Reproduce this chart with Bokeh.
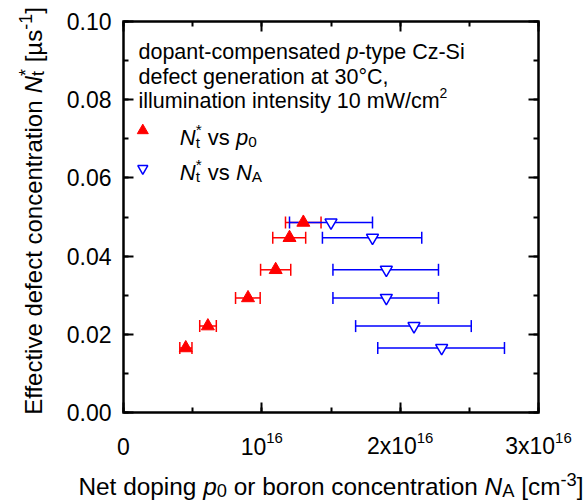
import math
from bokeh.plotting import figure
from bokeh.models import (ColumnDataSource, Whisker, TeeHead, LinearAxis,
                          SingleIntervalTicker, Label, Range1d,
                          PrintfTickFormatter, CustomJSTickFormatter)
from bokeh.embed import file_html
from bokeh.resources import INLINE

# ---------------- data ----------------
nt_values = [0.0486, 0.0447, 0.0365, 0.0293, 0.0221, 0.0165]   # N_t* [1/us]
p0_values = [1.30e16, 1.20e16, 1.10e16, 0.90e16, 0.61e16, 0.45e16]
p0_lower = [1.171e16, 1.079e16, 0.991e16, 0.810e16, 0.551e16, 0.407e16]
p0_upper = [1.428e16, 1.317e16, 1.209e16, 0.988e16, 0.671e16, 0.495e16]
na_values = [1.50e16, 1.80e16, 1.90e16, 1.90e16, 2.10e16, 2.30e16]
na_lower = [1.200e16, 1.438e16, 1.514e16, 1.514e16, 1.678e16, 1.838e16]
na_upper = [1.800e16, 2.156e16, 2.277e16, 2.277e16, 2.514e16, 2.754e16]

x_tick_values = [0, 1e16, 2e16, 3e16]
x_tick_base = ["0", "10", "2x10", "3x10"]
x_tick_exp = ["", "16", "16", "16"]

X0, X1 = 0, 3e16
Y0, Y1 = 0.0, 0.10

# ---------------- layout ----------------
W, H = 585, 503
L, R, T, B = 123, 538, 21, 412          # plot box in page pixels
FONT = "Liberation Sans"


def dx(px):
    return X0 + (px - L) / (R - L) * (X1 - X0)


def dy(py):
    return Y0 + (B - py) / (B - T) * (Y1 - Y0)


def tx(v):
    return L + (v - X0) / (X1 - X0) * (R - L)


# the frame spans the whole canvas so that the outer texts are not clipped
p = figure(width=W, height=H,
           x_range=Range1d(dx(0), dx(W)), y_range=Range1d(dy(H), dy(0)),
           output_backend="svg", toolbar_location=None,
           x_axis_type=None, y_axis_type=None,
           min_border_left=0, min_border_right=0,
           min_border_top=0, min_border_bottom=0)
p.outline_line_color = None
p.background_fill_color = "white"
p.border_fill_color = "white"


def make_axis(ticker, formatter, loc, bounds, labels=False):
    return LinearAxis(ticker=ticker, formatter=formatter,
                      fixed_location=loc, bounds=bounds,
                      axis_line_color=None,
                      major_tick_line_width=2, minor_tick_line_width=2,
                      major_tick_line_color="black", minor_tick_line_color="black",
                      major_tick_in=10, major_tick_out=0,
                      minor_tick_in=5, minor_tick_out=0,
                      major_label_text_font=FONT,
                      major_label_text_font_size="23px" if labels else "0px",
                      major_label_text_color="black",
                      major_label_standoff=12 if labels else 0)


xt = SingleIntervalTicker(interval=1e16, num_minor_ticks=2)
yt = SingleIntervalTicker(interval=0.02, num_minor_ticks=2)
empty = CustomJSTickFormatter(code="return ''")

p.add_layout(make_axis(xt, empty, Y0, (X0, X1)), "below")
p.add_layout(make_axis(xt, empty, Y1, (X0, X1)), "above")
p.add_layout(make_axis(yt, PrintfTickFormatter(format="%.2f"), X0, (Y0, Y1), True), "left")
p.add_layout(make_axis(yt, empty, X1, (Y0, Y1)), "right")

# plot box
p.quad(left=[X0], right=[X1], bottom=[Y0], top=[Y1], fill_color=None,
       line_color="black", line_width=2.5, line_join="miter")

AW = {' ': 278, '-': 333, ',': 278, '.': 278, '*': 389, '[': 278, ']': 278,
      '/': 278, '°': 400, 'µ': 577,
      'A': 667, 'C': 722, 'E': 667, 'N': 722, 'S': 667, 'W': 944,
      'a': 556, 'b': 556, 'c': 500, 'd': 556, 'e': 556, 'f': 278, 'g': 556,
      'h': 556, 'i': 222, 'l': 222, 'm': 833, 'n': 556, 'o': 556, 'p': 556,
      'r': 333, 's': 500, 't': 278, 'u': 556, 'v': 500, 'w': 722, 'x': 500,
      'y': 500, 'z': 500}


def tw(s, size):
    return sum(AW.get(c, 556) for c in s) / 1000.0 * size


def rich_width(segs, size, scale):
    pos, pending = 0.0, 0.0
    for text, ital, kind, adv in segs:
        fs = size if kind == "n" else size * scale
        w = tw(text, fs)
        if adv:
            pos += max(w, pending)
            pending = 0.0
        else:
            pending = w
    return pos


def rich(segs, x, y, size, angle=0.0, scale=0.7, sub=0.22, sup=0.36,
         color="black", anchor="left"):
    total = rich_width(segs, size, scale)
    ux, uy = math.cos(angle), -math.sin(angle)
    upx, upy = -math.sin(angle), -math.cos(angle)
    pos = -total / 2.0 if anchor == "center" else 0.0
    pending = 0.0
    for text, ital, kind, adv in segs:
        fs = size if kind == "n" else size * scale
        shift = 0.0
        if kind == "sub":
            shift = -sub * size
        elif kind == "sup":
            shift = sup * size
        lead = len(text) - len(text.lstrip(" "))
        off = tw(" " * lead, fs)
        px = x + ux * (pos + off) + upx * shift
        py = y + uy * (pos + off) + upy * shift
        p.add_layout(Label(x=dx(px), y=dy(py), x_units="data", y_units="data",
                           text=text.strip(" "), angle=angle, text_font=FONT,
                           text_font_size=f"{fs:.2f}px",
                           text_font_style="italic" if ital else "normal",
                           text_align="left", text_baseline="alphabetic",
                           text_color=color))
        w = tw(text, fs)
        if adv:
            pos += max(w, pending)
            pending = 0.0
        else:
            pending = w


# ---------------- error bars and markers ----------------
src_p0 = ColumnDataSource(dict(x=p0_values, y=nt_values, lo=p0_lower, hi=p0_upper))
src_na = ColumnDataSource(dict(x=na_values, y=nt_values, lo=na_lower, hi=na_upper))

for src, col in ((src_p0, "#ff0000"), (src_na, "#0000ff")):
    wk = Whisker(source=src, base="y", lower="lo", upper="hi", dimension="width",
                 line_color=col, line_width=1.5, level="underlay",
                 upper_head=TeeHead(size=12, line_color=col, line_width=1.5),
                 lower_head=TeeHead(size=12, line_color=col, line_width=1.5))
    p.add_layout(wk)

p.scatter("x", "y", source=src_p0, marker="triangle", size=13,
          fill_color="#ff0000", line_color="#ff0000", line_width=1)
p.scatter("x", "y", source=src_na, marker="inverted_triangle", size=12,
          fill_color="white", line_color="#0000ff", line_width=1.5)

# legend swatches
p.scatter([dx(142.3)], [dy(130.0)], marker="triangle", size=11,
          fill_color="#ff0000", line_color="#ff0000")
p.scatter([dx(142.3)], [dy(168.0)], marker="inverted_triangle", size=10,
          fill_color="white", line_color="#0000ff", line_width=1.5)

# ---------------- texts ----------------
AS = 21.5
rich([("dopant-compensated ", False, "n", True), ("p", True, "n", True),
      ("-type Cz-Si", False, "n", True)], 138, 51.5, AS)
rich([("defect generation at 30°C,", False, "n", True)], 138, 76.0, AS)
rich([("illumination intensity 10 mW/cm", False, "n", True),
      ("2", False, "sup", True)], 138, 100.5, AS, scale=0.65, sup=0.37)

LS = 22
rich([("N", True, "n", True), ("t", False, "sub", False), ("*", False, "sup", True),
      (" vs ", False, "n", True), ("p", True, "n", True), ("0", False, "sub", True)],
     179.3, 137.0, LS)
rich([("N", True, "n", True), ("t", False, "sub", False), ("*", False, "sup", True),
      (" vs ", False, "n", True), ("N", True, "n", True), ("A", False, "sub", True)],
     179.3, 171.5, LS)

# x tick labels
for v, base, ex in zip(x_tick_values, x_tick_base, x_tick_exp):
    segs = [(base, False, "n", True)]
    if ex:
        segs.append((ex, False, "sup", True))
    rich(segs, tx(v), 445.5, 23, scale=0.65, sup=0.36, anchor="center")

# axis titles
rich([("Net doping ", False, "n", True), ("p", True, "n", True), ("0", False, "sub", True),
      (" or boron concentration ", False, "n", True), ("N", True, "n", True),
      ("A", False, "sub", True), (" [cm", False, "n", True), ("-3", False, "sup", True),
      ("]", False, "n", True)],
     330.5, 486.0, 24.4, scale=0.75, sub=0.16, sup=0.3, anchor="center")

rich([("Effective defect concentration ", False, "n", True), ("N", True, "n", True),
      ("t", False, "sub", False), ("*", False, "sup", True),
      (" [µs", False, "n", True), ("-1", False, "sup", True), ("]", False, "n", True)],
     33.0, 210.5, 24, angle=math.pi / 2, scale=0.75, sub=0.2, sup=0.32, anchor="center")

open("out.html", "w").write(file_html(p, INLINE))
